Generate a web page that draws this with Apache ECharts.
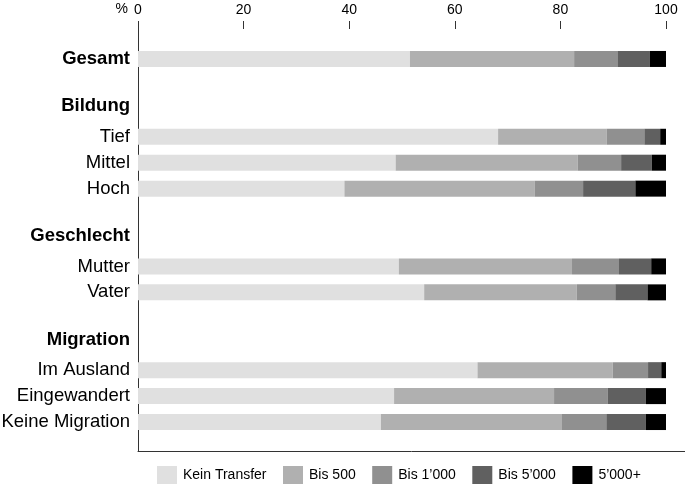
<!DOCTYPE html>
<html>
<head>
<meta charset="utf-8">
<script src="https://cdn.jsdelivr.net/npm/echarts@6/dist/echarts.min.js"></script>
<style>html,body{margin:0;padding:0;background:#fff}#c{width:685px;height:493px}</style>
</head>
<body>
<div id="c"></div>
<script>
const categories = ['Gesamt','','Bildung','Tief','Mittel','Hoch','','Geschlecht','Mutter','Vater','','Migration','Im Ausland','Eingewandert','Keine Migration'];
const headers = ['Bildung','Geschlecht','Migration'];
const boldRows = ['Gesamt'];
const seriesNames = ['Kein Transfer','Bis 500','Bis 1’000','Bis 5’000','5’000+'];
const colors = ['#e0e0e0','#b0b0b0','#909090','#606060','#000000'];
const keinTransfer = [51.5, null, null, 68.2, 48.8, 39.1, null, null, 49.4, 54.2, null, null, 64.3, 48.5, 46.0];
const bis500       = [31.1, null, null, 20.6, 34.5, 36.0, null, null, 32.8, 28.9, null, null, 25.6, 30.3, 34.3];
const bis1000      = [8.2,  null, null, 7.1,  8.2,  9.2,  null, null, 8.9,  7.3,  null, null, 6.7,  10.2, 8.4];
const bis5000      = [6.1,  null, null, 3.0,  5.8,  9.9,  null, null, 6.1,  6.1,  null, null, 2.5,  7.2,  7.5];
const ueber5000    = [3.1,  null, null, 1.1,  2.7,  5.8,  null, null, 2.8,  3.5,  null, null, 0.9,  3.8,  3.8];
const xTicks = {min: 0, max: 100, interval: 20};
const values = [keinTransfer, bis500, bis1000, bis5000, ueber5000];

const chart = echarts.init(document.getElementById('c'), null, {renderer: 'canvas'});
const font = "'Liberation Sans', Arial, Helvetica, sans-serif";
chart.setOption({
  animation: false,
  textStyle: {fontFamily: font, color: '#000'},
  grid: [
    {left: 138, right: 0, top: 29, bottom: 42, containLabel: false, outerBoundsMode: 'none'},
    {left: 138, width: 528, top: 46, height: 389, containLabel: false, outerBoundsMode: 'none'}
  ],
  xAxis: [
    {gridIndex: 0, type: 'value', min: 0, max: 1, position: 'top',
     axisLine: {show: true, lineStyle: {color: '#333', width: 1}},
     axisTick: {show: false}, axisLabel: {show: false}, splitLine: {show: false}},
    {gridIndex: 1, type: 'value', min: xTicks.min, max: xTicks.max, interval: xTicks.interval,
     position: 'top', offset: 17,
     name: '%', nameLocation: 'start', nameGap: 10,
     nameTextStyle: {fontSize: 14, color: '#000', fontFamily: font, verticalAlign: 'bottom', lineHeight: 40},
     axisLine: {show: false},
     axisTick: {show: true, length: 8, lineStyle: {color: '#333', width: 1}},
     axisLabel: {fontSize: 14, color: '#000', margin: 12, fontFamily: font},
     splitLine: {show: false}}
  ],
  yAxis: [
    {gridIndex: 0, type: 'value', min: 0, max: 1, position: 'left',
     axisLine: {show: true, lineStyle: {color: '#333', width: 1}},
     axisTick: {show: false}, axisLabel: {show: false}, splitLine: {show: false}},
    {gridIndex: 1, type: 'category', data: categories, inverse: true,
     axisLine: {show: false}, axisTick: {show: false}, splitLine: {show: false},
     axisLabel: {
       fontSize: 18.5, color: '#000', margin: 8, fontFamily: font, interval: 0,
       formatter: function (v) {
         if (headers.indexOf(v) >= 0) return '{h|' + v + '}';
         if (boldRows.indexOf(v) >= 0) return '{b|' + v + '}';
         return v;
       },
       rich: {
         h: {fontSize: 18.5, fontWeight: 'bold', color: '#000', fontFamily: font, padding: [0, 0, 9, 0]},
         b: {fontSize: 18.5, fontWeight: 'bold', color: '#000', fontFamily: font}
       }
     }}
  ],
  legend: {
    left: 152, top: 461, itemWidth: 20, itemHeight: 18, itemGap: 16.5, icon: 'rect',
    textStyle: {fontSize: 14, color: '#000', fontFamily: font, padding: [0, 0, 0, 1]},
    data: seriesNames
  },
  series: seriesNames.map(function (n, i) {
    return {
      name: n, type: 'bar', stack: 'total', xAxisIndex: 1, yAxisIndex: 1,
      barWidth: 16, data: values[i],
      itemStyle: {color: colors[i]},
      emphasis: {disabled: true}
    };
  })
});
</script>
</body>
</html>
